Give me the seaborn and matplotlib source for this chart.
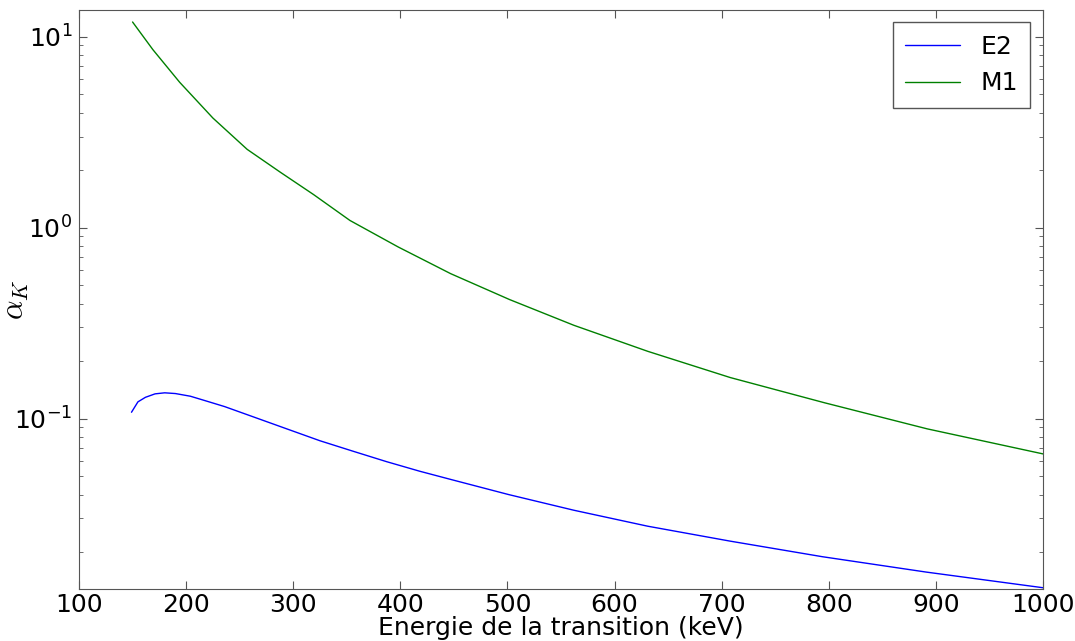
import matplotlib
matplotlib.use("Agg")
import matplotlib.pyplot as plt
import seaborn as sns
import pandas as pd

# E2 conversion coefficients (alpha_K)
e2_energy = [149, 155, 162, 171, 180, 190, 204, 220, 236, 265, 294, 325, 356, 387, 418,
             447, 501, 562, 631, 708, 794, 891, 1000]
e2_alpha = [0.1079, 0.1223, 0.1292, 0.1347, 0.1364, 0.1352, 0.1309, 0.123, 0.1155, 0.101,
            0.0883, 0.0765, 0.0674, 0.0595, 0.053, 0.048, 0.040, 0.0331, 0.0273, 0.0228,
            0.0189, 0.0157, 0.0130]

# M1 conversion coefficients
m1_energy = [150, 169, 194, 225, 257, 288, 319, 353, 398, 447, 502, 562, 631, 708, 796,
             892, 1000]
m1_alpha = [11.94, 8.55, 5.77, 3.75, 2.57, 1.95, 1.49, 1.09, 0.792, 0.574, 0.420, 0.308,
            0.225, 0.164, 0.121, 0.0883, 0.0653]

df = pd.concat([
    pd.DataFrame({"energie": e2_energy, "alpha": e2_alpha, "type": "E2"}),
    pd.DataFrame({"energie": m1_energy, "alpha": m1_alpha, "type": "M1"}),
])

sns.set_style("ticks")
plt.rcParams["font.family"] = ["DejaVu Sans"]
plt.rcParams["mathtext.fontset"] = "cm"
plt.rcParams["text.color"] = "black"
plt.rcParams["axes.labelcolor"] = "black"
plt.rcParams["xtick.labelcolor"] = "black"
plt.rcParams["ytick.labelcolor"] = "black"

fig = plt.figure(figsize=(10.75, 6.41), dpi=100)
ax = fig.add_axes([0.0735, 0.0811, 0.8967, 0.9033])

sns.lineplot(data=df, x="energie", y="alpha", hue="type", palette={"E2": "b", "M1": "g"},
             linewidth=1, ax=ax)

ax.set_yscale("log")
ax.set_xlim(100, 1000)
ax.set_ylim(0.0128, 13.8)
ax.set_xlabel("Energie de la transition (keV)", fontsize=18)
ax.set_ylabel(r"$\alpha_K$", fontsize=22)
ax.xaxis.set_label_coords(0.5, -0.047)
ax.yaxis.set_label_coords(-0.05, 0.5)

for side in ["top", "right", "left", "bottom"]:
    ax.spines[side].set_visible(True)
    ax.spines[side].set_color("#555555")
ax.tick_params(which="both", direction="in", top=True, right=True, labelsize=18,
               color="#555555")
ax.tick_params(which="major", length=6)
ax.tick_params(axis="x", which="major", pad=3)
ax.tick_params(axis="y", which="major", pad=5)
ax.tick_params(which="minor", length=3)

leg = ax.legend(loc="upper right", fontsize=18, fancybox=False, framealpha=1,
                handlelength=2.2, borderpad=0.5)
leg.get_frame().set_edgecolor("#555555")

fig.savefig("out.png", dpi=100)
